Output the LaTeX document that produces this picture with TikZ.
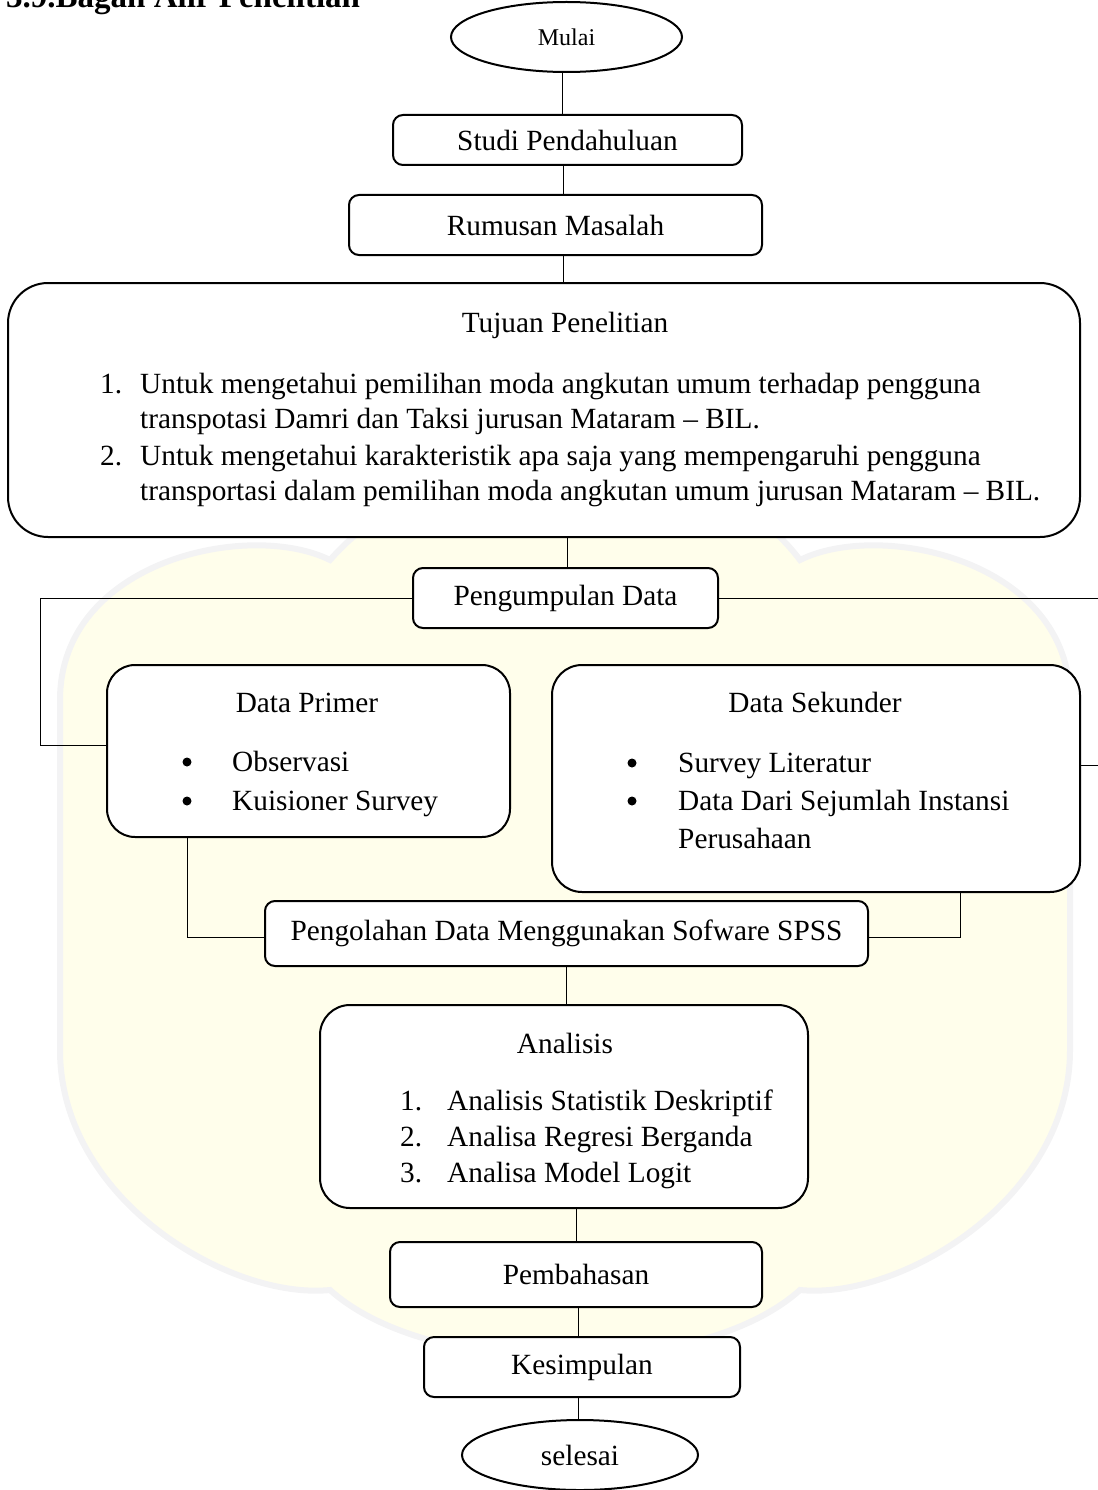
\documentclass[tikz,border=0pt]{standalone}
\usepackage{fontspec}
\setmainfont{Liberation Serif}
\usetikzlibrary{shapes.geometric}
\newcommand\mainsz{\fontsize{29.3}{35}\selectfont}
\begin{document}
\begin{tikzpicture}[x=1pt,y=-1pt,
  box/.style={draw, line width=2pt, rounded corners=10pt, inner sep=0pt, font=\mainsz, fill=white},
  bigbox/.style={box, rounded corners=30pt},
  term/.style={draw, ellipse, line width=2pt, inner sep=0pt, fill=white},
  conn/.style={line width=1pt},
  txt/.style={inner sep=0pt, font=\mainsz, anchor=base west},
  ctxt/.style={inner sep=0pt, font=\mainsz, anchor=base},
  dot/.style={circle, fill=black, inner sep=0pt, minimum size=9pt},
  wmark/.style={fill=yellow!8, draw=blue!5!gray!9, line width=6pt}]
\useasboundingbox (0,0) rectangle (1097,1490);

% faint background watermark
\path[wmark] (60,700) .. controls (60,560) and (250,520) .. (330,560)
  .. controls (400,480) and (500,470) .. (565,500)
  .. controls (640,470) and (740,480) .. (800,560)
  .. controls (880,520) and (1070,560) .. (1070,700) -- (1070,1050)
  .. controls (1070,1200) and (900,1300) .. (800,1290)
  .. controls (700,1380) and (430,1380) .. (330,1290)
  .. controls (230,1300) and (60,1200) .. (60,1050) -- cycle;

% title
\node[anchor=base west, inner sep=0pt, font=\bfseries\fontsize{33}{38}\selectfont] (title) at (6,8) {3.9.Bagan Alir Penelitian};

% terminals and boxes
\node[term, minimum width=231pt, minimum height=70pt, font=\fontsize{24}{28}\selectfont] (mulai) at (566.5,37) {Mulai};
\node[box, minimum width=349pt, minimum height=50pt] (studi) at (567.5,140) {Studi Pendahuluan};
\node[box, minimum width=413pt, minimum height=60pt] (rumusan) at (555.5,225) {Rumusan Masalah};
\node[bigbox, rounded corners=40pt, minimum width=1072pt, minimum height=254pt] (tujuan) at (544,410) {};
\node[box, minimum width=305pt, minimum height=60pt] (kumpul) at (565.5,598) {Pengumpulan Data};
\node[bigbox, rounded corners=28pt, minimum width=403pt, minimum height=172pt] (primer) at (308.5,751) {};
\node[bigbox, minimum width=528pt, minimum height=227pt] (sekunder) at (816,778.5) {};
\node[box, minimum width=603pt, minimum height=65pt] (olah) at (566.5,933.5) {Pengolahan Data Menggunakan Sofware SPSS};
\node[bigbox, minimum width=488pt, minimum height=203pt] (analisis) at (564,1106.5) {};
\node[box, minimum width=372pt, minimum height=65pt] (bahas) at (576,1274.5) {Pembahasan};
\node[box, minimum width=316pt, minimum height=60pt] (simpul) at (582,1367) {Kesimpulan};
\node[term, minimum width=236pt, minimum height=70pt, font=\mainsz] (selesai) at (580,1455) {selesai};

% Tujuan text
\node[ctxt] (tjt) at (565,332) {Tujuan Penelitian};
\node[txt] (tj1n) at (100,393) {1.};
\node[txt] (tj1a) at (140,393) {Untuk mengetahui pemilihan moda angkutan umum terhadap pengguna};
\node[txt] (tj1b) at (140,428) {transpotasi Damri dan Taksi jurusan Mataram – BIL.};
\node[txt] (tj2n) at (100,465) {2.};
\node[txt] (tj2a) at (140,465) {Untuk mengetahui karakteristik apa saja yang mempengaruhi pengguna};
\node[txt] (tj2b) at (140,500) {transportasi dalam pemilihan moda angkutan umum jurusan Mataram – BIL.};

% Data Primer text
\node[ctxt] (dpt) at (307,712) {Data Primer};
\node[dot] (dpb1) at (187,762) {};
\node[txt] (dp1) at (232,771) {Observasi};
\node[dot] (dpb2) at (187,801) {};
\node[txt] (dp2) at (232,810) {Kuisioner Survey};

% Data Sekunder text
\node[ctxt] (dst) at (815,712) {Data Sekunder};
\node[dot] (dsb1) at (632,763) {};
\node[txt] (ds1) at (678,772) {Survey Literatur};
\node[dot] (dsb2) at (632,801) {};
\node[txt] (ds2) at (678,810) {Data Dari Sejumlah Instansi};
\node[txt] (ds3) at (678,848) {Perusahaan};

% Analisis text
\node[ctxt] (ant) at (565,1053) {Analisis};
\node[txt] (an1n) at (400,1110) {1.};
\node[txt] (an1) at (447,1110) {Analisis Statistik Deskriptif};
\node[txt] (an2n) at (400,1146) {2.};
\node[txt] (an2) at (447,1146) {Analisa Regresi Berganda};
\node[txt] (an3n) at (400,1182) {3.};
\node[txt] (an3) at (447,1182) {Analisa Model Logit};

% connectors
\coordinate (redge) at (1102,0);
\coordinate (ledge) at (40,0);
\draw[conn] ([xshift=-4pt]mulai.south) -- ([xshift=-4pt]mulai.south |- studi.north);
\draw[conn] ([xshift=-4pt]studi.south) -- ([xshift=-4pt]studi.south |- rumusan.north);
\draw[conn] ([xshift=8pt]rumusan.south) -- ([xshift=8pt]rumusan.south |- tujuan.north);
\draw[conn] ([xshift=23pt]tujuan.south) -- ([xshift=23pt]tujuan.south |- kumpul.north);
\draw[conn] (kumpul.west) -- (kumpul.west -| ledge) |- ([yshift=6pt]primer.west);
\draw[conn] (kumpul.east) -- (kumpul.east -| redge) |- ([yshift=13pt]sekunder.east);
\draw[conn] ([xshift=-121.5pt]primer.south) |- ([yshift=-4pt]olah.west);
\draw[conn] ([xshift=144pt]sekunder.south) |- ([yshift=-4pt]olah.east);
\draw[conn] (olah.south) -- (olah.south |- analisis.north);
\draw[conn] ([xshift=12pt]analisis.south) -- ([xshift=12pt]analisis.south |- bahas.north);
\draw[conn] ([xshift=2pt]bahas.south) -- ([xshift=2pt]bahas.south |- simpul.north);
\draw[conn] ([xshift=-4pt]simpul.south) -- ([xshift=-4pt]simpul.south |- selesai.north);
\end{tikzpicture}
\end{document}
